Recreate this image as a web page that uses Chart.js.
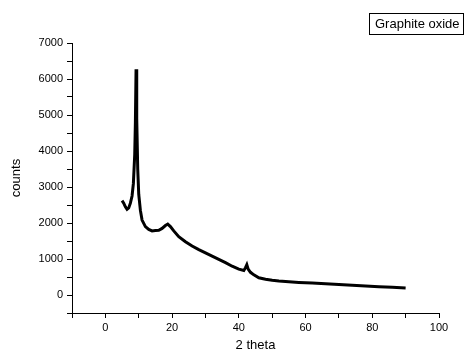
<!DOCTYPE html>
<html>
<head>
<meta charset="utf-8">
<script src="https://cdn.jsdelivr.net/npm/chart.js@4"></script>
<style>
  body { margin: 0; background: #fff; }
  #wrap { width: 464px; height: 352px; position: relative; }
</style>
</head>
<body>
<div id="wrap"><canvas id="myChart"></canvas></div>
<script>
var seriesName = "Graphite oxide";
var twoTheta = [5, 5.5, 6, 6.5, 7, 7.5, 8, 8.4, 8.8, 9.0, 9.2, 9.4, 9.7, 10.0, 10.5, 11, 12, 13, 14, 15, 16, 17, 18, 18.7, 19.5, 20.5, 22, 24, 26, 28, 30, 32, 34, 36, 38, 40, 41.5, 42.0, 42.4, 42.8, 43.5, 44.5, 46, 48, 50, 52, 55, 58, 62, 66, 70, 74, 78, 82, 86, 90];
var counts = [2620, 2550, 2450, 2380, 2420, 2550, 2750, 3100, 3900, 4800, 6270, 4900, 3500, 2800, 2350, 2080, 1900, 1820, 1780, 1790, 1800, 1850, 1930, 1970, 1900, 1780, 1620, 1480, 1360, 1260, 1170, 1080, 990, 900, 800, 720, 680, 760, 840, 720, 630, 560, 480, 440, 410, 390, 370, 350, 330, 310, 290, 270, 250, 230, 215, 195];

var font = "'Liberation Sans', Arial, sans-serif";

// boxed legend in the top right corner
var legendBox = {
  id: 'legendBox',
  afterDraw: function(chart) {
    var ctx = chart.ctx;
    ctx.save();
    ctx.strokeStyle = '#000';
    ctx.lineWidth = 1;
    ctx.strokeRect(369.5, 13.5, 94, 21);
    ctx.fillStyle = '#000';
    ctx.font = '13px ' + font;
    ctx.textBaseline = 'middle';
    ctx.fillText(chart.data.datasets[0].label, 375, 24.5);
    ctx.restore();
  }
};

new Chart("myChart", {
  type: "line",
  data: {
    datasets: [{
      label: seriesName,
      data: twoTheta.map(function(x, i) { return { x: x, y: counts[i] }; }),
      borderColor: "#000",
      borderWidth: 3,
      pointRadius: 0,
      tension: 0,
      fill: false
    }]
  },
  options: {
    responsive: true,
    maintainAspectRatio: false,
    animation: false,
    layout: { padding: { top: 43, right: 25, left: 0, bottom: 0 } },
    plugins: {
      legend: { display: false },
      tooltip: { enabled: false }
    },
    scales: {
      x: {
        type: 'linear',
        min: -10,
        max: 100,
        afterFit: function(s) { s.height = 39; },
        border: { display: true, color: '#000', width: 1 },
        grid: { drawOnChartArea: false, drawTicks: true, tickLength: 5, color: '#000' },
        ticks: {
          stepSize: 10,
          autoSkip: false,
          maxRotation: 0,
          color: '#000',
          padding: 3,
          font: { family: font, size: 11 },
          callback: function(v) { return (v % 20 === 0) ? v : ''; }
        },
        title: {
          display: true,
          text: '2 theta',
          color: '#000',
          font: { family: font, size: 13, lineHeight: 1 },
          padding: 0
        }
      },
      y: {
        min: -500,
        max: 7000,
        afterFit: function(s) { s.width = 72; },
        border: { display: true, color: '#000', width: 1 },
        grid: { drawOnChartArea: false, drawTicks: true, tickLength: 5, color: '#000' },
        ticks: {
          stepSize: 500,
          autoSkip: false,
          color: '#000',
          padding: 4,
          font: { family: font, size: 11 },
          callback: function(v) { return (v % 1000 === 0) ? v : ''; }
        },
        title: {
          display: true,
          text: 'counts',
          color: '#000',
          font: { family: font, size: 13, lineHeight: 1 },
          padding: { top: 10, bottom: 0 }
        }
      }
    }
  },
  plugins: [legendBox]
});
</script>
</body>
</html>
